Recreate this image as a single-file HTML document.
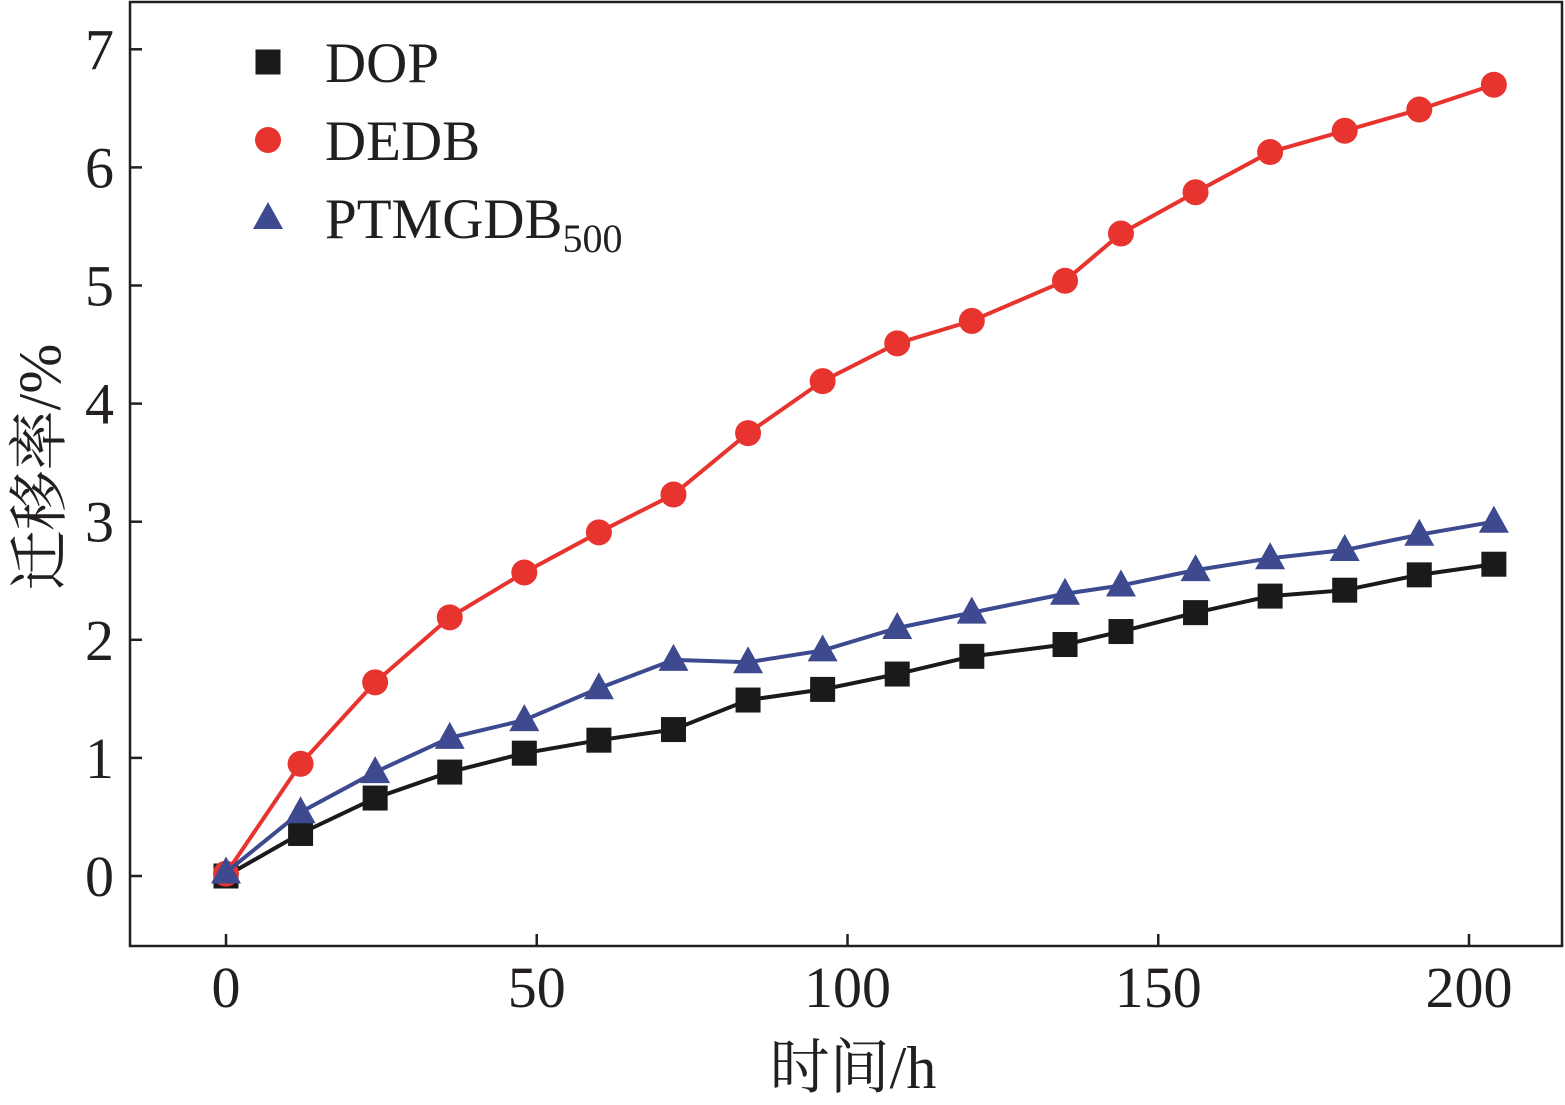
<!DOCTYPE html>
<html><head><meta charset="utf-8"><style>
body{margin:0;background:#fff}
svg{display:block}
text{font-family:"Liberation Serif","Noto Serif CJK SC",serif;fill:#231f20}
</style></head><body>
<svg width="1565" height="1105">
<g id="axes"></g><g id="series"></g><g id="legend"></g>
</svg>
<script>
const times=[0,12,24,36,48,60,72,84,96,108,120,135,144,156,168,180,192,204];
const dop=[0,0.36,0.66,0.88,1.04,1.15,1.24,1.49,1.58,1.71,1.86,1.96,2.07,2.23,2.37,2.42,2.55,2.64];
const dedb=[0.02,0.95,1.64,2.19,2.57,2.91,3.23,3.75,4.19,4.51,4.70,5.04,5.44,5.79,6.13,6.31,6.49,6.70];
const ptmg=[0.03,0.54,0.88,1.17,1.32,1.59,1.83,1.81,1.91,2.10,2.23,2.39,2.46,2.59,2.69,2.76,2.89,3.00];
const xTicks=[0,50,100,150,200];
const yTicks=[0,1,2,3,4,5,6,7];
const NS='http://www.w3.org/2000/svg';
const L=130,R=1562,T=2,B=946;
const xs=v=>226+v*6.215;
const ys=v=>876-v*118.1;
function mk(tag,attrs,parent,txt){const e=document.createElementNS(NS,tag);for(const k in attrs)e.setAttribute(k,attrs[k]);if(txt!==undefined)e.textContent=txt;parent.appendChild(e);return e;}
const ax=document.getElementById('axes');
const frame=mk('rect',{x:L,y:T,width:R-L,height:B-T,fill:'none',stroke:'#231f20','stroke-width':2.5},ax);


xTicks.forEach(v=>{
 const t=mk('line',{x1:xs(v),x2:xs(v),y1:B,y2:B-12,stroke:'#231f20','stroke-width':2.5},ax);
 
 
 const l=mk('text',{x:xs(v),y:1007,'font-size':58,'text-anchor':'middle'},ax,String(v));
 
 
});
yTicks.forEach(v=>{
 const t=mk('line',{x1:L,x2:L+12,y1:ys(v),y2:ys(v),stroke:'#231f20','stroke-width':2.5},ax);
 
 
 const l=mk('text',{x:114,y:ys(v)+20,'font-size':58,'text-anchor':'end'},ax,String(v));
 
 
});
const xt=mk('text',{x:853,y:1088,'font-size':60,'text-anchor':'middle'},ax,'时间/h');


const yt=mk('text',{x:0,y:0,'font-size':60,'text-anchor':'middle',transform:'translate(60,467) rotate(-90)'},ax,'迁移率/%');


const sg=document.getElementById('series');
function marker(kind,x,y,color,parent){
 if(kind==='sq')return mk('rect',{x:x-12.5,y:y-12.5,width:25,height:25,fill:color},parent);
 if(kind==='ci')return mk('circle',{cx:x,cy:y,r:13,fill:color},parent);
 return mk('polygon',{points:`${x},${y-16} ${x-15},${y+11} ${x+15},${y+11}`,fill:color},parent);
}
function series(vals,color,kind,name){
 const g=mk('g',{},sg);
 
 
 const p=mk('polyline',{points:times.map((t,i)=>xs(t)+','+ys(vals[i])).join(' '),fill:'none',stroke:color,'stroke-width':4},g);
 
 
 times.forEach((t,i)=>{const m=marker(kind,xs(t),ys(vals[i]),color,g);
  
  });
}
series(dop,'#1a1a1a','sq','dop');
series(dedb,'#e8342f','ci','dedb');
series(ptmg,'#3d4a8f','tr','ptmgdb');
const lg=document.getElementById('legend');
const items=[['sq','#1a1a1a','DOP',62],['ci','#e8342f','DEDB',140],['tr','#3d4a8f','PTMGDB',218]];
items.forEach(([k,c,n,y],i)=>{
 const m=marker(k,268,y,c,lg);
 
 
 const t=mk('text',{x:325,y:y+20,'font-size':57},lg,n);
 
 
 if(i===2){mk('tspan',{'font-size':40,dy:14},t,'500');}
});
</script>
</body></html>
